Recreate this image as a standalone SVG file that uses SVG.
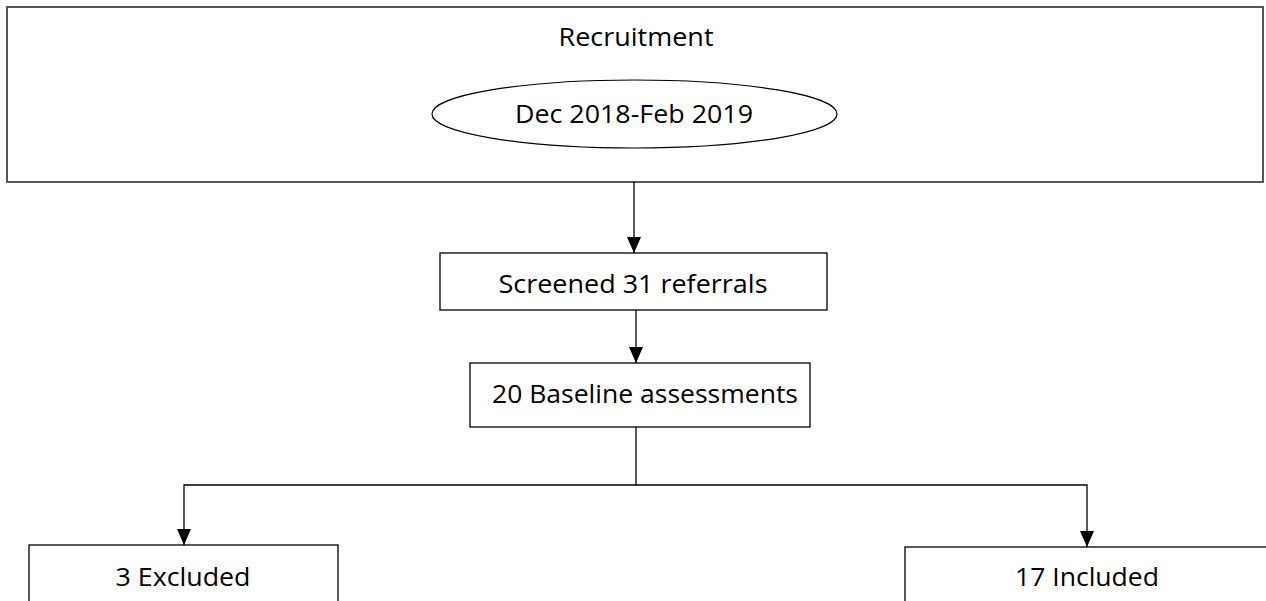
<svg xmlns="http://www.w3.org/2000/svg" width="1266" height="601" viewBox="0 0 1266 601">
<style>
.box{fill:#fff;stroke:#000;stroke-width:1.3}
.big{fill:#fff;stroke:#454545;stroke-width:1.8}
.t{font-family:"Open Sans","Noto Sans",sans-serif;font-size:25px;fill:#000;text-anchor:middle}
.ln{fill:none;stroke:#000;stroke-width:1.3}
</style>
<defs>
<marker id="ah" viewBox="0 0 16 14" refX="16" refY="7" markerWidth="16" markerHeight="14" markerUnits="userSpaceOnUse" orient="auto">
<path d="M0,0 L16,7 L0,14 Z" fill="#000"/>
</marker>
</defs>
<g id="recruitment">
<rect class="big" x="7" y="7" width="1256" height="175"/>
<text class="t" x="636" y="46" textLength="155" lengthAdjust="spacingAndGlyphs">Recruitment</text>
</g>
<g id="period">
<ellipse cx="634.5" cy="114" rx="202.5" ry="34" fill="#fff" stroke="#000" stroke-width="1.2"/>
<text class="t" x="634" y="123" textLength="238" lengthAdjust="spacingAndGlyphs">Dec 2018-Feb 2019</text>
</g>
<g id="screened">
<rect class="box" x="440" y="253" width="387" height="57"/>
<text class="t" x="633" y="293" textLength="269" lengthAdjust="spacingAndGlyphs">Screened 31 referrals</text>
</g>
<g id="baseline">
<rect class="box" x="470" y="363" width="340" height="64"/>
<text class="t" x="645" y="403" textLength="306" lengthAdjust="spacingAndGlyphs">20 Baseline assessments</text>
</g>
<g id="excluded">
<rect class="box" x="29" y="545" width="309" height="70"/>
<text class="t" x="183" y="586" textLength="135" lengthAdjust="spacingAndGlyphs">3 Excluded</text>
</g>
<g id="included">
<rect class="box" x="905" y="547" width="380" height="70"/>
<text class="t" x="1087" y="586" textLength="144" lengthAdjust="spacingAndGlyphs">17 Included</text>
</g>
<g id="connectors">
<line class="ln" x1="634" y1="182" x2="634" y2="253" marker-end="url(#ah)"/>
<line class="ln" x1="636" y1="310" x2="636" y2="363" marker-end="url(#ah)"/>
<polyline class="ln" points="636,427 636,485 184,485 184,545" marker-end="url(#ah)"/>
<polyline class="ln" points="636,485 1087,485 1087,547" marker-end="url(#ah)"/>
</g>
</svg>
